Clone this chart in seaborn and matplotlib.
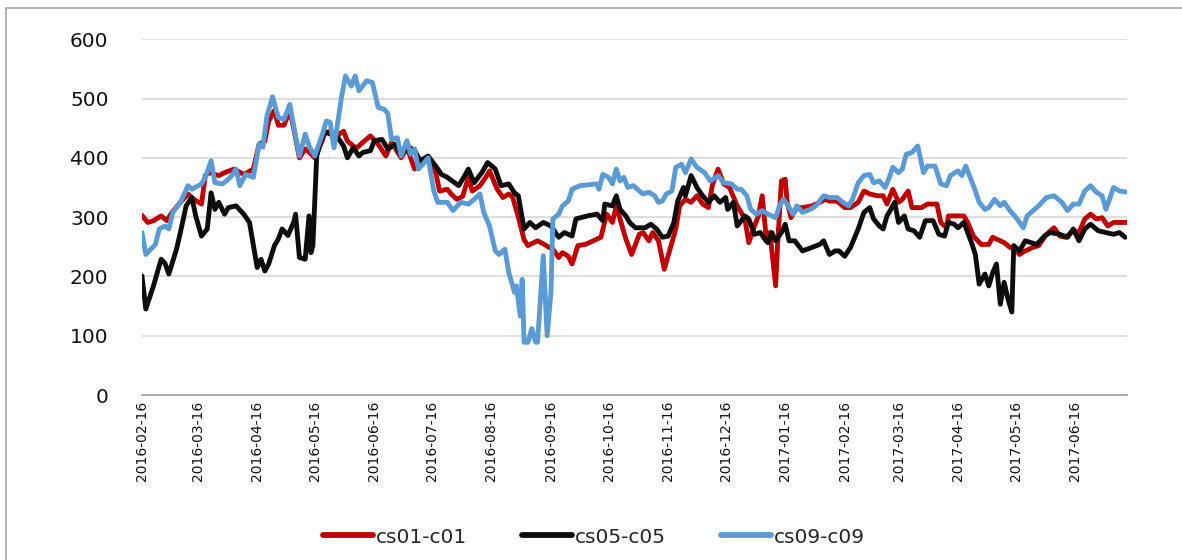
import pandas as pd
import numpy as np
import matplotlib
matplotlib.use("Agg")
import matplotlib.pyplot as plt
import matplotlib.dates as mdates
from matplotlib.patches import Rectangle
import seaborn as sns

start = pd.Timestamp("2016-02-16")
names = ["cs01-c01", "cs05-c05", "cs09-c09"]
colors = {"cs01-c01": "#C00000", "cs05-c05": "#0D0D0D", "cs09-c09": "#5B9BD5"}

# day offsets from 2016-02-16 and spread values
red_days = [0, 3, 6, 10, 13, 15, 20, 24, 27, 31,
            33, 35, 40, 43, 48, 53, 58, 61, 64, 66,
            69, 71, 74, 77, 79, 82, 85, 87, 90, 94,
            95, 98, 102, 105, 107, 110, 112, 115, 119, 123,
            127, 130, 135, 138, 142, 145, 149, 153, 155, 159,
            161, 164, 167, 170, 172, 176, 179, 181, 185, 188,
            191, 193, 196, 199, 201, 204, 206, 209, 212, 214,
            217, 219, 222, 224, 227, 231, 235, 239, 242, 245,
            247, 250, 252, 255, 257, 259, 261, 264, 266, 269,
            272, 275, 278, 280, 283, 286, 289, 292, 295, 297,
            300, 303, 306, 310, 314, 316, 319, 321, 323, 325,
            327, 330, 331, 333, 335, 336, 338, 341, 344, 349,
            353, 356, 358, 362, 366, 369, 373, 376, 379, 383,
            386, 388, 391, 394, 396, 399, 401, 406, 409, 414,
            416, 419, 420, 423, 428, 430, 433, 437, 441, 443,
            447, 449, 452, 455, 457, 460, 464, 467, 471, 475,
            478, 481, 485, 488, 491, 494, 497, 500, 503, 506,
            509, 513]
red_vals = [303, 291, 294, 302, 294, 305, 325, 339, 330, 322,
            370, 375, 370, 375, 381, 372, 381, 423, 428, 462,
            480, 455, 455, 480, 450, 400, 415, 410, 400, 430,
            440, 445, 438, 445, 428, 420, 417, 426, 437, 423,
            403, 426, 400, 417, 381, 386, 400, 375, 344, 347,
            339, 330, 335, 367, 344, 353, 367, 378, 347, 333,
            339, 334, 300, 262, 252, 257, 260, 255, 249, 246,
            232, 240, 234, 221, 252, 254, 260, 266, 305, 291,
            319, 285, 263, 237, 254, 271, 274, 260, 274, 260,
            212, 246, 280, 319, 330, 325, 336, 322, 316, 353,
            381, 356, 350, 319, 297, 257, 285, 302, 336, 268,
            274, 184, 252, 361, 364, 325, 299, 316, 316, 319,
            325, 330, 327, 327, 316, 316, 325, 344, 339, 336,
            336, 322, 347, 325, 330, 344, 316, 316, 322, 322,
            291, 282, 302, 302, 302, 291, 268, 254, 254, 266,
            260, 257, 249, 246, 237, 243, 249, 252, 271, 282,
            268, 266, 277, 274, 297, 305, 297, 299, 285, 291,
            291, 291]

black_days = [0, 2, 6, 10, 12, 14, 18, 20, 23, 26,
              28, 31, 34, 36, 38, 40, 43, 45, 49, 53,
              56, 60, 62, 64, 66, 69, 71, 73, 76, 79,
              80, 82, 85, 87, 88, 89, 91, 93, 95, 98,
              102, 105, 107, 110, 113, 115, 119, 121, 125, 128,
              132, 135, 138, 142, 145, 149, 153, 156, 159, 165,
              167, 170, 173, 177, 180, 184, 187, 191, 194, 196,
              199, 202, 205, 209, 213, 217, 220, 224, 226, 232,
              237, 240, 241, 245, 247, 249, 252, 254, 257, 262,
              265, 268, 271, 274, 277, 279, 282, 283, 286, 289,
              292, 295, 298, 301, 304, 305, 308, 310, 314, 316,
              319, 322, 325, 326, 328, 330, 333, 335, 337, 340,
              344, 349, 353, 355, 358, 361, 363, 366, 369, 373,
              376, 379, 381, 384, 386, 388, 390, 392, 394, 397,
              399, 402, 405, 408, 412, 415, 418, 420, 423, 425,
              428, 432, 434, 436, 439, 441, 443, 445, 447, 449,
              451, 453, 454, 457, 460, 463, 466, 470, 473, 478,
              482, 485, 488, 491, 494, 498, 502, 506, 509, 512]
black_vals = [201, 145, 184, 229, 222, 204, 246, 274, 319, 333,
              302, 268, 280, 341, 313, 325, 305, 316, 319, 305,
              291, 215, 229, 209, 221, 252, 263, 280, 269, 291,
              305, 232, 229, 302, 240, 252, 403, 426, 445, 440,
              434, 420, 400, 417, 403, 409, 412, 429, 431, 415,
              423, 403, 420, 412, 395, 403, 386, 372, 367, 353,
              364, 381, 358, 375, 392, 381, 353, 356, 341, 336,
              280, 291, 282, 291, 285, 266, 274, 268, 297, 302,
              305, 294, 322, 319, 336, 313, 302, 291, 282, 282,
              288, 280, 266, 268, 291, 327, 350, 336, 370, 350,
              336, 325, 336, 325, 333, 313, 325, 285, 302, 297,
              271, 274, 260, 257, 274, 260, 274, 288, 260, 260,
              243, 249, 254, 260, 237, 243, 243, 234, 249, 280,
              308, 316, 297, 285, 280, 302, 313, 325, 291, 302,
              280, 277, 266, 294, 294, 271, 268, 291, 288, 282,
              291, 257, 237, 187, 204, 184, 206, 221, 153, 190,
              162, 140, 252, 243, 260, 257, 254, 268, 274, 271,
              266, 280, 260, 280, 288, 277, 274, 271, 274, 266]

blue_days = [0, 2, 7, 9, 12, 14, 16, 20, 24, 26,
             31, 33, 36, 38, 42, 46, 49, 51, 54, 58,
             61, 63, 65, 68, 71, 74, 77, 79, 82, 85,
             87, 90, 94, 96, 98, 100, 104, 106, 109, 111,
             113, 117, 120, 123, 126, 128, 130, 133, 135, 138,
             140, 142, 144, 147, 149, 152, 154, 159, 162, 166,
             170, 173, 176, 178, 181, 184, 186, 189, 191, 194,
             195, 197, 198, 199, 201, 203, 205, 206, 209, 211,
             213, 214, 217, 219, 222, 224, 228, 237, 238, 240,
             243, 245, 247, 249, 251, 253, 256, 259, 261, 264,
             267, 269, 271, 273, 276, 278, 281, 283, 286, 289,
             293, 296, 300, 303, 307, 310, 312, 315, 317, 320,
             323, 326, 330, 332, 334, 336, 339, 341, 344, 348,
             351, 355, 358, 362, 365, 368, 370, 373, 376, 379,
             381, 384, 387, 389, 391, 394, 396, 398, 401, 404,
             407, 409, 413, 416, 419, 421, 425, 427, 429, 433,
             436, 439, 441, 444, 447, 449, 452, 455, 459, 461,
             464, 467, 471, 475, 479, 482, 485, 488, 491, 494,
             497, 500, 502, 506, 509, 513]
blue_vals = [274, 237, 254, 280, 285, 280, 308, 325, 353, 347,
             356, 367, 395, 358, 356, 367, 381, 353, 372, 367,
             423, 418, 469, 503, 468, 465, 490, 454, 403, 440,
             420, 403, 440, 462, 460, 417, 504, 538, 521, 538,
             513, 530, 527, 485, 482, 475, 431, 434, 403, 429,
             406, 415, 381, 392, 400, 344, 325, 325, 311, 325,
             322, 330, 339, 308, 285, 243, 237, 246, 207, 173,
             184, 133, 195, 89, 89, 112, 89, 89, 235, 100,
             173, 297, 305, 319, 327, 347, 353, 356, 347, 372,
             367, 356, 381, 361, 367, 350, 353, 344, 339, 342,
             336, 325, 327, 339, 344, 384, 389, 375, 398, 384,
             375, 361, 370, 358, 356, 347, 347, 336, 313, 305,
             311, 305, 299, 319, 330, 322, 305, 319, 308, 313,
             319, 336, 333, 333, 325, 319, 330, 358, 370, 372,
             358, 361, 350, 365, 384, 375, 381, 406, 409, 420,
             375, 386, 386, 356, 353, 370, 378, 370, 386, 353,
             325, 313, 316, 330, 319, 325, 311, 300, 282, 302,
             311, 319, 333, 336, 325, 311, 322, 322, 344, 353,
             342, 336, 313, 350, 344, 342]

frames = []
for name, d, v in [(names[0], red_days, red_vals),
                   (names[1], black_days, black_vals),
                   (names[2], blue_days, blue_vals)]:
    frames.append(pd.DataFrame({
        "date": start + pd.to_timedelta(d, unit="D"),
        "value": v,
        "series": name,
    }))
df = pd.concat(frames, ignore_index=True)

sns.set_theme(style="white")
plt.rcParams["font.family"] = ["DejaVu Sans"]

fig, ax = plt.subplots(figsize=(11.82, 5.6), dpi=100)
fig.subplots_adjust(left=0.1201, right=0.9535, bottom=0.2946, top=0.930)

sns.lineplot(data=df, x="date", y="value", hue="series", hue_order=names,
             palette=colors, estimator=None, sort=True, linewidth=3.5, ax=ax)

ax.set_ylim(0, 600)
ax.set_yticks(range(0, 601, 100))
ax.set_xlim(start, start + pd.Timedelta(days=513))
ax.xaxis.set_major_locator(mdates.MonthLocator(bymonthday=16))
ax.xaxis.set_major_formatter(mdates.DateFormatter("%Y-%m-%d"))
ax.set_xlabel("")
ax.set_ylabel("")

ax.yaxis.grid(True, color="#D9D9D9", linewidth=1.2)
ax.xaxis.grid(False)
for s in ["left", "right", "top"]:
    ax.spines[s].set_visible(False)
ax.spines["bottom"].set_color("#A6A6A6")
ax.spines["bottom"].set_linewidth(1.3)

ax.tick_params(axis="y", length=0, pad=24, labelsize=14.5, labelcolor="#111111")
ax.tick_params(axis="x", length=0, pad=4, labelsize=10, labelcolor="#111111",
               labelrotation=90)

leg = ax.legend(loc="center", bbox_to_anchor=(0.5025, 0.041),
                bbox_transform=fig.transFigure, ncol=3, frameon=False,
                fontsize=14.5, handlelength=2.5, handletextpad=0.15,
                columnspacing=2.7)
for line in leg.get_lines():
    line.set_linewidth(4.2)

# outer chart frame
fig.add_artist(Rectangle((0.005, -0.1), 1.2, 1.0857, transform=fig.transFigure,
                         fill=False, edgecolor="#A6A6A6", linewidth=1.2))

fig.savefig("out.png", dpi=100)
